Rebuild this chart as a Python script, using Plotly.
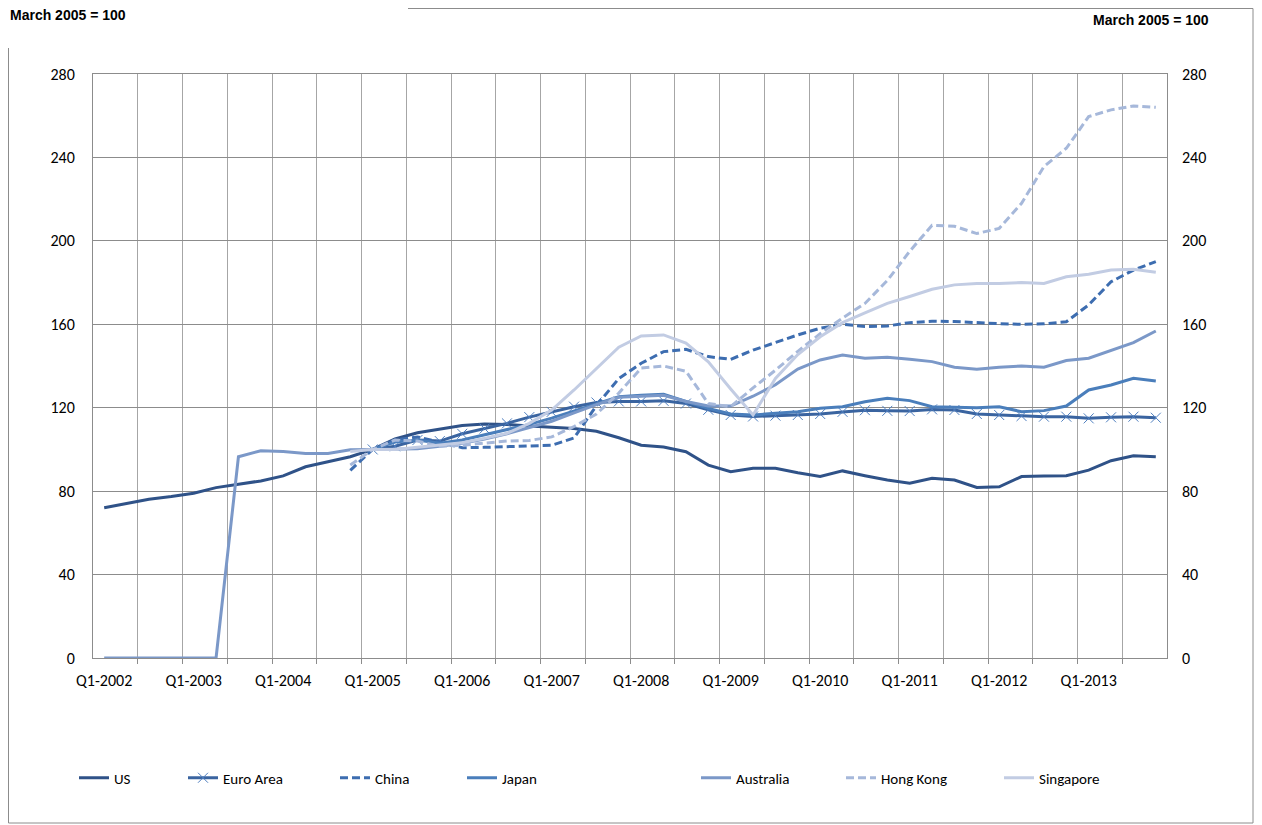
import plotly.graph_objects as go

# ---------------- data ----------------
quarters = [f"Q{q}-{y}" for y in range(2002, 2014) for q in range(1, 5)]
tick_labels = ["Q1-2002", "Q1-2003", "Q1-2004", "Q1-2005", "Q1-2006", "Q1-2007",
               "Q1-2008", "Q1-2009", "Q1-2010", "Q1-2011", "Q1-2012", "Q1-2013"]
y_ticks = [0, 40, 80, 120, 160, 200, 240, 280]

N = None
us = [72, 74.2, 76.1, 77.4, 79, 81.7, 83.3, 84.9, 87.3, 91.7, 94.1, 96.5,
      100, 105, 108, 109.6, 111.5, 112.2, 112, 111.2, 110.7, 110, 108.7, 105.6,
      102, 101.2, 98.9, 92.5, 89.3, 91, 91, 88.8, 87, 89.7, 87.4, 85.3,
      83.8, 86.2, 85.3, 81.8, 82.1, 87, 87.3, 87.4, 90.1, 94.6, 97, 96.5]
euro = [N] * 12 + [100, 101.5, 104.5, 104, 107.5, 110, 112.5, 115.5, 118, 120.5, 122.5, 123,
                   123, 123.3, 122, 119, 116.5, 115.8, 116.2, 116.5, 117, 118, 118.8, 118.5,
                   118.4, 119.2, 118.9, 117, 116.5, 116, 115.7, 115.7, 114.9, 115.4, 115.7, 115.2]
china = [N] * 11 + [90, 100, 104.5, 106, 103.5, 100.8, 101, 101.3, 101.6, 102, 105.5, 121, 134,
                    141.3, 146.9, 148, 144.5, 143.2, 147.6, 151.3, 154.9, 158.1, 160, 158.9, 159.2,
                    160.8, 161.5, 161.3, 160.7, 160.3, 160, 160.2, 161.2, 169.3, 180.4, 186, 190]
japan = [N] * 12 + [100, 103.5, 104.5, 103, 104.5, 107, 109.5, 112, 115, 118.5, 122, 125.3,
                    126, 126.4, 123, 119.7, 117, 116.5, 117.3, 118.1, 119.7, 120.5, 122.9, 124.5,
                    123.4, 120.5, 120.2, 120, 120.5, 118.1, 118.6, 120.8, 128.5, 130.9, 134.1, 132.8]
australia = [0, 0, 0, 0, 0, 0, 96.5, 99.4, 99, 98.1, 98.1, 99.8,
             100, 100, 100.3, 101.5, 103, 105, 107.5, 110.5, 113.5, 117.5, 121.5, 125,
             125.6, 126, 123, 120.8, 120.8, 125.5, 131, 138.5, 142.9, 145.3, 143.7, 144.2,
             143.2, 142.1, 139.4, 138.4, 139.4, 140, 139.4, 142.6, 143.7, 147.4, 151.2, 156.8]
hong_kong = [N] * 11 + [92.5, 100, 104.5, 104, 101.5, 102, 103, 104, 104.3, 106, 111, 117, 127,
                        139, 140, 137.5, 122, 120.5, 129.5, 138, 147, 155.5, 163, 170, 181,
                        195, 207.5, 207, 203.5, 206, 218, 235.6, 244.4, 259.6, 262.8, 264.7, 264]
singapore = [N] * 11 + [99, 100, 100, 101, 102, 103.2, 105.3, 107.7, 112.5, 118.9, 128.5, 139, 149,
                        154.4, 154.9, 151, 142, 129, 116.5, 134, 145.5, 154, 160.8, 165.5, 170,
                        173.3, 176.8, 178.9, 179.5, 179.6, 180, 179.6, 182.8, 184, 186, 186.4, 185]

series = [
    ("US", us, "#2f5288", None, False),
    ("Euro Area", euro, "#3a64a0", None, True),
    ("China", china, "#3d6db0", "8px,4px", False),
    ("Japan", japan, "#4a7ebb", None, False),
    ("Australia", australia, "#7b98c8", None, False),
    ("Hong Kong", hong_kong, "#a6b8da", "8px,4px", False),
    ("Singapore", singapore, "#c2cce3", None, False),
]
legend_text_start = [115, 224, 376, 503, 737, 882, 1040]

# ---------------- layout geometry (page pixels) ----------------
OFF = 8                      # page body margin of the browser
W, H = 1262 - OFF, 825 - OFF
L, R, T, B = 93, 1167, 74, 658
VIS_R = 1253                 # right-most visible page pixel column


def px_x(p):
    return (p - L) / (R - L)


def px_y(p):
    return (B - p) / (B - T)


FONT = "Carlito, Lato, sans-serif"
x_idx = list(range(len(quarters)))

fig = go.Figure()
for k, (name, vals, color, dash, markers) in enumerate(series):
    leg = "legend" if k == 0 else f"legend{k + 1}"
    kw = dict(
        x=x_idx, y=vals, name=name, legend=leg,
        customdata=quarters, hovertemplate="%{customdata}: %{y}<extra>" + name + "</extra>",
        line=dict(color=color, width=3, dash=dash if dash else "solid"),
    )
    if markers:
        kw["mode"] = "lines+markers"
        kw["marker"] = dict(symbol="x-thin", size=10, color="#4f7fc0",
                            line=dict(width=1, color="#4f7fc0"))
    else:
        kw["mode"] = "lines"
    fig.add_trace(go.Scatter(**kw))

# empty trace to bring in the right-hand axis
fig.add_trace(go.Scatter(x=[], y=[], yaxis="y2", showlegend=False, hoverinfo="skip"))

border = dict(color="#8c8c8c", width=1)
layout = dict(
    width=W, height=H,
    margin=dict(l=L - OFF, r=1262 - R, t=T - OFF, b=825 - B, pad=0),
    paper_bgcolor="white", plot_bgcolor="white",
    font=dict(family=FONT, size=16, color="#000000"),
    xaxis=dict(
        range=[-0.5, len(quarters) - 0.5],
        tickmode="array",
        tickvals=[quarters.index(t) for t in tick_labels],
        ticktext=tick_labels,
        ticks="", showgrid=False, zeroline=False,
        showline=True, linecolor="#8c8c8c", linewidth=1, mirror=True,
        tickfont=dict(family=FONT, size=16),
        ticklabelstandoff=8,
        minor=dict(
            tickmode="array",
            tickvals=[i - 0.5 for i in range(2, len(quarters), 2)],
            showgrid=True, gridcolor="#a6a6a6", gridwidth=1,
            ticks="outside", ticklen=5, tickcolor="#8c8c8c", tickwidth=1,
        ),
    ),
    yaxis=dict(
        range=[0, 280], tickmode="array", tickvals=y_ticks,
        ticks="", showgrid=True, gridcolor="#8c8c8c", gridwidth=1, zeroline=False,
        showline=True, linecolor="#8c8c8c", linewidth=1, mirror=True,
        tickfont=dict(family=FONT, size=16),
        ticklabelstandoff=14,
    ),
    yaxis2=dict(
        range=[0, 280], tickmode="array", tickvals=y_ticks,
        overlaying="y", side="right", anchor="x",
        ticks="", showgrid=False, zeroline=False, showline=False,
        tickfont=dict(family=FONT, size=16),
        ticklabelstandoff=14,
    ),
    showlegend=True,
    annotations=[
        dict(text="<b>March 2005 = 100</b>", xref="paper", yref="paper",
             x=px_x(OFF), y=px_y(15), xanchor="left", yanchor="middle", showarrow=False,
             font=dict(family="Liberation Sans, Arial, sans-serif", size=14, color="#000")),
        dict(text="<b>March 2005 = 100</b>", xref="paper", yref="paper",
             x=px_x(1211), y=px_y(20), xanchor="right", yanchor="middle", showarrow=False,
             font=dict(family="Liberation Sans, Arial, sans-serif", size=14, color="#000")),
    ],
    shapes=[
        dict(type="line", xref="paper", yref="paper", x0=px_x(OFF + 0.5), x1=px_x(OFF + 0.5),
             y0=px_y(48), y1=px_y(823), line=border),
        dict(type="line", xref="paper", yref="paper", x0=px_x(408), x1=px_x(VIS_R),
             y0=px_y(OFF + 0.5), y1=px_y(OFF + 0.5), line=border),
        dict(type="line", xref="paper", yref="paper", x0=px_x(VIS_R), x1=px_x(VIS_R),
             y0=px_y(OFF + 0.5), y1=px_y(823), line=border),
        dict(type="line", xref="paper", yref="paper", x0=px_x(OFF + 0.5), x1=px_x(VIS_R),
             y0=px_y(823), y1=px_y(823), line=border),
    ],
)

for k, start in enumerate(legend_text_start):
    key = "legend" if k == 0 else f"legend{k + 1}"
    layout[key] = dict(
        x=px_x(start - 41), y=px_y(778), xanchor="left", yanchor="middle",
        orientation="h", bgcolor="rgba(0,0,0,0)", borderwidth=0,
        font=dict(family=FONT, size=15, color="#000"),
    )

fig.update_layout(**layout)
fig.write_html("out.html")
